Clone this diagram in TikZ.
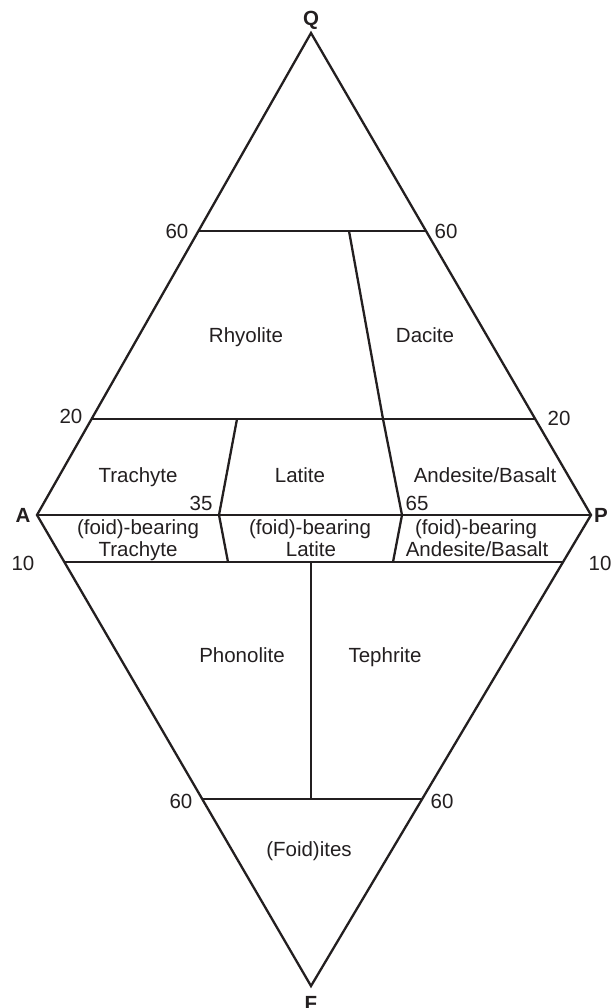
\documentclass[tikz,border=0pt]{standalone}
\usepackage{fontspec}
\setmainfont{Liberation Sans}
\definecolor{ink}{RGB}{35,31,32}
\begin{document}
\begin{tikzpicture}[x=1pt,y=-1pt,
  edge/.style={draw=ink,line width=2.3pt,line join=miter},
  lbl/.style={text=ink,font=\fontsize{20.5}{22}\selectfont,inner sep=0pt},
  num/.style={text=ink,font=\fontsize{20.5}{22}\selectfont,inner sep=0pt},
  vtx/.style={text=ink,font=\bfseries\fontsize{20.5}{22}\selectfont,inner sep=0pt}]
\useasboundingbox (0,0) rectangle (613,1008);
% vertices
\coordinate (Q) at (311,33);
\coordinate (A) at (37,515);
\coordinate (P) at (591,515);
\coordinate (F) at (311,986);
% horizontal line ends
\coordinate (q60l) at (198.4,231);
\coordinate (q60r) at (426.0,231);
\coordinate (q20l) at (91.6,419);
\coordinate (q20r) at (535.2,419);
\coordinate (f10l) at (64.3,562);
\coordinate (f10r) at (563.1,562);
\coordinate (f60l) at (202.2,799);
\coordinate (f60r) at (422.2,799);
% dividers
\coordinate (rd) at (349,231);
\coordinate (d35t) at (237,419);
\coordinate (d35) at (219,515);
\coordinate (d35b) at (228,562);
\coordinate (d65t) at (383,419);
\coordinate (d65) at (402,515);
\coordinate (d65b) at (393,562);
\coordinate (ct) at (311,562);
\coordinate (cb) at (311,799);
% outline
\draw[edge] (Q) -- (P) -- (F) -- (A) -- cycle;
\draw[edge] (A) -- (P);
\draw[edge] (q60l) -- (q60r);
\draw[edge] (q20l) -- (q20r);
\draw[edge] (f10l) -- (f10r);
\draw[edge] (f60l) -- (f60r);
\draw[edge] (rd) -- (d65t) -- (d65) -- (d65b);
\draw[edge] (d35t) -- (d35) -- (d35b);
\draw[edge] (ct) -- (cb);
% vertex labels
\node[vtx] (lQ) at (311,20) {Q};
\node[vtx] (lA) at (23,515) {A};
\node[vtx] (lP) at (601,515) {P};
\node[vtx] (lF) at (311,1003) {F};
% numbers
\node[num] (n60a) at (177,231) {60};
\node[num] (n60b) at (446,231) {60};
\node[num] (n20a) at (71,416) {20};
\node[num] (n20b) at (559,418) {20};
\node[num] (n35) at (201,503) {35};
\node[num] (n65) at (417,503) {65};
\node[num] (n10a) at (23,563) {10};
\node[num] (n10b) at (600,563) {10};
\node[num] (n60c) at (181,801) {60};
\node[num] (n60d) at (442,801) {60};
% field names
\node[lbl,anchor=base] (rhy) at (246,342) {Rhyolite};
\node[lbl,anchor=base] (dac) at (425,342) {Dacite};
\node[lbl,anchor=base] (tra) at (138,482) {Trachyte};
\node[lbl,anchor=base] (lat) at (300,482) {Latite};
\node[lbl,anchor=base] (and) at (485,482) {Andesite/Basalt};
\node[lbl,anchor=base] (fbt1) at (138,534) {(foid)-bearing};
\node[lbl,anchor=base] (fbt2) at (138,556.5) {Trachyte};
\node[lbl,anchor=base] (fbl1) at (310,534) {(foid)-bearing};
\node[lbl,anchor=base] (fbl2) at (311,556.5) {Latite};
\node[lbl,anchor=base] (fba1) at (476,534) {(foid)-bearing};
\node[lbl,anchor=base] (fba2) at (477,556.5) {Andesite/Basalt};
\node[lbl,anchor=base] (pho) at (242,662) {Phonolite};
\node[lbl,anchor=base] (tep) at (385,662) {Tephrite};
\node[lbl,anchor=base] (foi) at (309,856) {(Foid)ites};
\end{tikzpicture}
\end{document}
